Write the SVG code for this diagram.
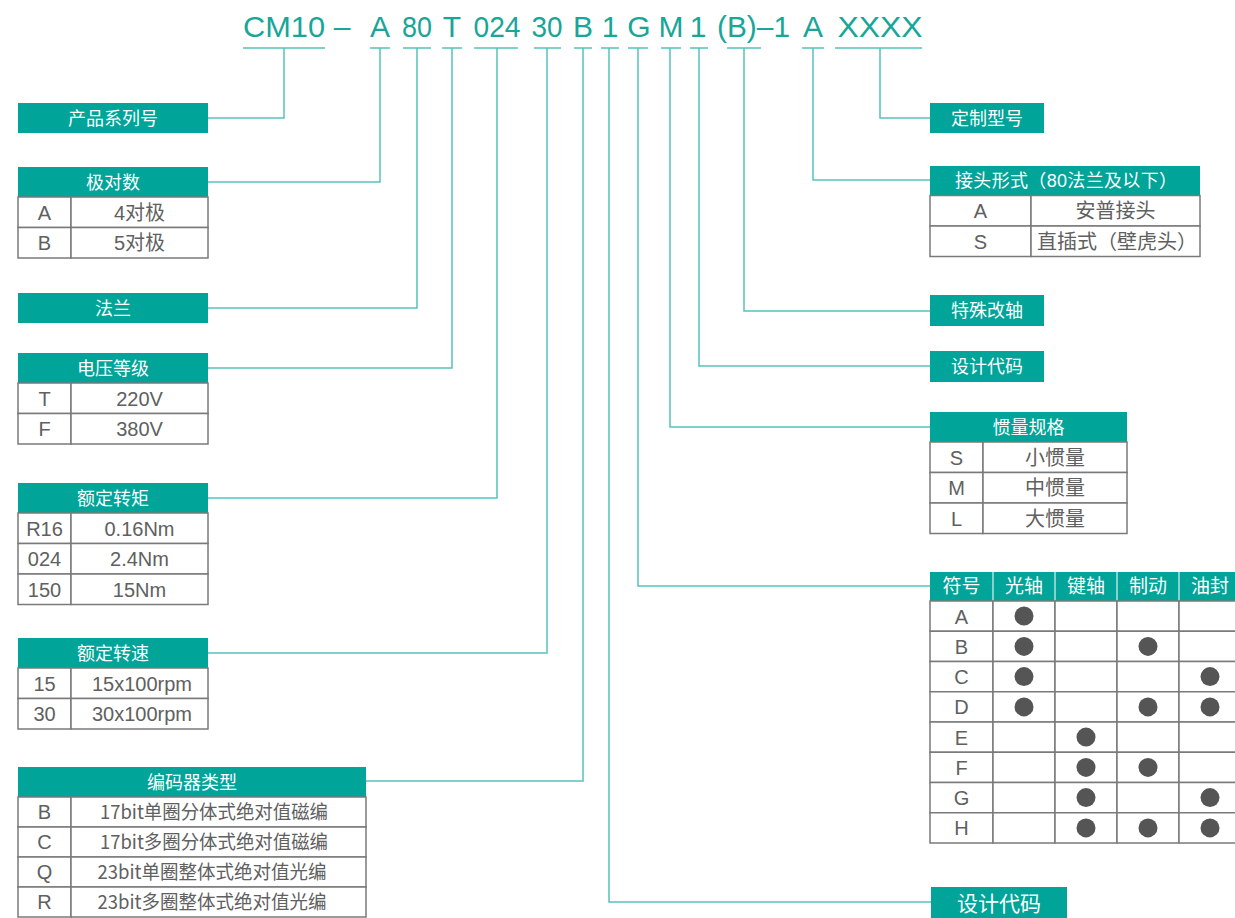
<svg xmlns="http://www.w3.org/2000/svg" width="1235" height="918" viewBox="0 0 1235 918">
<style>
.hd{fill:#00a499}
.ht{fill:#ffffff;font-family:"Liberation Sans","Noto Sans CJK SC",sans-serif;font-size:18px;text-anchor:middle}
.bt{fill:#606060;font-family:"Liberation Sans","Noto Sans CJK SC",sans-serif;font-size:20px;text-anchor:middle}
.et{fill:#606060;font-family:"Noto Sans CJK SC",sans-serif;font-size:19px;text-anchor:middle}
.cell{fill:#ffffff;stroke:#7a7a7a;stroke-width:1.5}
.sep{stroke:#ffffff;stroke-width:1.5;opacity:0.7}
.conn{fill:none;stroke:#55c3ba;stroke-width:1.5}
.code{fill:#17a698;font-family:"Liberation Sans",sans-serif;font-size:30px;text-anchor:middle}
.dot{fill:#555555}
</style>
<rect width="1235" height="918" fill="#ffffff"/>

<g id="code">
<text class="code" x="284" y="37" textLength="82" lengthAdjust="spacingAndGlyphs">CM10</text>
<text class="code" x="342" y="37">–</text>
<text class="code" x="380" y="37">A</text>
<text class="code" x="417" y="37" textLength="30" lengthAdjust="spacingAndGlyphs">80</text>
<text class="code" x="452" y="37">T</text>
<text class="code" x="497" y="37" textLength="47" lengthAdjust="spacingAndGlyphs">024</text>
<text class="code" x="547" y="37" textLength="31" lengthAdjust="spacingAndGlyphs">30</text>
<text class="code" x="583" y="37">B</text>
<text class="code" x="610" y="37">1</text>
<text class="code" x="639" y="37">G</text>
<text class="code" x="671" y="37">M</text>
<text class="code" x="698" y="37">1</text>
<text class="code" x="753.5" y="37" textLength="73" lengthAdjust="spacingAndGlyphs">(B)–1</text>
<text class="code" x="813" y="37">A</text>
<text class="code" x="880" y="37" textLength="85" lengthAdjust="spacingAndGlyphs">XXXX</text>
</g>

<g id="connectors">
<path class="conn" d="M243,48H325M370,48H390M403,48H431M442,48H462M474,48H518M534,48H561M574,48H592M601,48H619M628,48H648M661,48H681M690,48H708M727,48H761M802,48H824M835,48H922"/>
<path class="conn" d="M284,48V118H208"/>
<path class="conn" d="M380,48V182H208"/>
<path class="conn" d="M417,48V308H208"/>
<path class="conn" d="M452,48V368H208"/>
<path class="conn" d="M497,48V498H208"/>
<path class="conn" d="M547,48V653H208"/>
<path class="conn" d="M583,48V781H366"/>
<path class="conn" d="M609,48V902H931"/>
<path class="conn" d="M638,48V586H930"/>
<path class="conn" d="M670,48V427H930"/>
<path class="conn" d="M699,48V366H930"/>
<path class="conn" d="M744,48V311H930"/>
<path class="conn" d="M813,48V180H930"/>
<path class="conn" d="M880,48V118H930"/>
</g>

<g id="series">
<rect class="hd" x="18" y="103" width="190" height="30"/>
<text class="ht" x="113" y="124.5">产品系列号</text>
</g>

<g id="poles">
<rect class="hd" x="18" y="167" width="190" height="30"/>
<text class="ht" x="113" y="188.5">极对数</text>
<rect class="cell" x="18" y="197" width="53" height="30.5"/><rect class="cell" x="71" y="197" width="137" height="30.5"/>
<rect class="cell" x="18" y="227.5" width="53" height="30.5"/><rect class="cell" x="71" y="227.5" width="137" height="30.5"/>
<text class="bt" x="44.5" y="219.5">A</text><text class="bt" x="139.5" y="219.5">4对极</text>
<text class="bt" x="44.5" y="250">B</text><text class="bt" x="139.5" y="250">5对极</text>
</g>

<g id="flange">
<rect class="hd" x="18" y="293" width="190" height="30"/>
<text class="ht" x="113" y="314.5">法兰</text>
</g>

<g id="voltage">
<rect class="hd" x="18" y="353" width="190" height="30"/>
<text class="ht" x="113" y="374.5">电压等级</text>
<rect class="cell" x="18" y="383" width="53" height="30.5"/><rect class="cell" x="71" y="383" width="137" height="30.5"/>
<rect class="cell" x="18" y="413.5" width="53" height="30.5"/><rect class="cell" x="71" y="413.5" width="137" height="30.5"/>
<text class="bt" x="44.5" y="405.5">T</text><text class="bt" x="139.5" y="405.5">220V</text>
<text class="bt" x="44.5" y="436">F</text><text class="bt" x="139.5" y="436">380V</text>
</g>

<g id="torque">
<rect class="hd" x="18" y="483" width="190" height="30"/>
<text class="ht" x="113" y="504.5">额定转矩</text>
<rect class="cell" x="18" y="513" width="53" height="30.5"/><rect class="cell" x="71" y="513" width="137" height="30.5"/>
<rect class="cell" x="18" y="543.5" width="53" height="30.5"/><rect class="cell" x="71" y="543.5" width="137" height="30.5"/>
<rect class="cell" x="18" y="574" width="53" height="30.5"/><rect class="cell" x="71" y="574" width="137" height="30.5"/>
<text class="bt" x="44.5" y="535.5">R16</text><text class="bt" x="139.5" y="535.5">0.16Nm</text>
<text class="bt" x="44.5" y="566">024</text><text class="bt" x="139.5" y="566">2.4Nm</text>
<text class="bt" x="44.5" y="596.5">150</text><text class="bt" x="139.5" y="596.5">15Nm</text>
</g>

<g id="speed">
<rect class="hd" x="18" y="638" width="190" height="30"/>
<text class="ht" x="113" y="659.5">额定转速</text>
<rect class="cell" x="18" y="668" width="53" height="30.5"/><rect class="cell" x="71" y="668" width="137" height="30.5"/>
<rect class="cell" x="18" y="698.5" width="53" height="30.5"/><rect class="cell" x="71" y="698.5" width="137" height="30.5"/>
<text class="bt" x="44.5" y="690.5">15</text><text class="bt" x="142" y="690.5">15x100rpm</text>
<text class="bt" x="44.5" y="721">30</text><text class="bt" x="142" y="721">30x100rpm</text>
</g>

<g id="encoder">
<rect class="hd" x="18" y="767" width="348" height="30"/>
<text class="ht" x="192" y="788.5">编码器类型</text>
<rect class="cell" x="18" y="797" width="53" height="30"/><rect class="cell" x="71" y="797" width="295" height="30"/>
<rect class="cell" x="18" y="827" width="53" height="30"/><rect class="cell" x="71" y="827" width="295" height="30"/>
<rect class="cell" x="18" y="857" width="53" height="30"/><rect class="cell" x="71" y="857" width="295" height="30"/>
<rect class="cell" x="18" y="887" width="53" height="30"/><rect class="cell" x="71" y="887" width="295" height="30"/>
<text class="bt" x="44.5" y="819">B</text><text class="et" x="214" y="818.5" textLength="228" lengthAdjust="spacingAndGlyphs">17bit单圈分体式绝对值磁编</text>
<text class="bt" x="44.5" y="849">C</text><text class="et" x="214" y="848.5" textLength="228" lengthAdjust="spacingAndGlyphs">17bit多圈分体式绝对值磁编</text>
<text class="bt" x="44.5" y="879">Q</text><text class="et" x="212" y="878.5" textLength="229" lengthAdjust="spacingAndGlyphs">23bit单圈整体式绝对值光编</text>
<text class="bt" x="44.5" y="909">R</text><text class="et" x="212" y="908.5" textLength="229" lengthAdjust="spacingAndGlyphs">23bit多圈整体式绝对值光编</text>
</g>

<g id="custom">
<rect class="hd" x="930" y="103" width="114" height="30"/>
<text class="ht" x="987" y="124.5">定制型号</text>
</g>

<g id="connector-type">
<rect class="hd" x="930" y="166" width="270" height="29.5"/>
<text class="ht" x="1066" y="187" textLength="222" lengthAdjust="spacing">接头形式（80法兰及以下）</text>
<rect class="cell" x="930" y="195.5" width="101" height="30.5"/><rect class="cell" x="1031" y="195.5" width="169" height="30.5"/>
<rect class="cell" x="930" y="226" width="101" height="30.5"/><rect class="cell" x="1031" y="226" width="169" height="30.5"/>
<text class="bt" x="980.5" y="218">A</text><text class="bt" x="1115.5" y="218">安普接头</text>
<text class="bt" x="980.5" y="248.5">S</text><text class="bt" x="1117" y="248.5">直插式（壁虎头）</text>
</g>

<g id="special-shaft">
<rect class="hd" x="930" y="295" width="114" height="31"/>
<text class="ht" x="987" y="317">特殊改轴</text>
</g>

<g id="design-code-1">
<rect class="hd" x="930" y="351" width="114" height="31"/>
<text class="ht" x="987" y="373">设计代码</text>
</g>

<g id="inertia">
<rect class="hd" x="930" y="412" width="197" height="30"/>
<text class="ht" x="1028.5" y="433.5">惯量规格</text>
<rect class="cell" x="930" y="442" width="53" height="30.5"/><rect class="cell" x="983" y="442" width="144" height="30.5"/>
<rect class="cell" x="930" y="472.5" width="53" height="30.5"/><rect class="cell" x="983" y="472.5" width="144" height="30.5"/>
<rect class="cell" x="930" y="503" width="53" height="30.5"/><rect class="cell" x="983" y="503" width="144" height="30.5"/>
<text class="bt" x="956.5" y="464.5">S</text><text class="bt" x="1055" y="464.5">小惯量</text>
<text class="bt" x="956.5" y="495">M</text><text class="bt" x="1055" y="495">中惯量</text>
<text class="bt" x="956.5" y="525.5">L</text><text class="bt" x="1055" y="525.5">大惯量</text>
</g>

<g id="shaft-table">
<rect class="hd" x="930" y="572" width="312" height="29"/>
<line class="sep" x1="993" y1="572" x2="993" y2="601"/>
<line class="sep" x1="1055" y1="572" x2="1055" y2="601"/>
<line class="sep" x1="1117" y1="572" x2="1117" y2="601"/>
<line class="sep" x1="1179" y1="572" x2="1179" y2="601"/>
<text class="ht" x="961.5" y="593" style="font-size:19px">符号</text>
<text class="ht" x="1024" y="593" style="font-size:19px">光轴</text>
<text class="ht" x="1086" y="593" style="font-size:19px">键轴</text>
<text class="ht" x="1148" y="593" style="font-size:19px">制动</text>
<text class="ht" x="1210" y="593" style="font-size:19px">油封</text>
<g>
<rect class="cell" x="930" y="601" width="63" height="30.25"/><rect class="cell" x="993" y="601" width="62" height="30.25"/><rect class="cell" x="1055" y="601" width="62" height="30.25"/><rect class="cell" x="1117" y="601" width="62" height="30.25"/><rect class="cell" x="1179" y="601" width="62" height="30.25"/>
<rect class="cell" x="930" y="631.25" width="63" height="30.25"/><rect class="cell" x="993" y="631.25" width="62" height="30.25"/><rect class="cell" x="1055" y="631.25" width="62" height="30.25"/><rect class="cell" x="1117" y="631.25" width="62" height="30.25"/><rect class="cell" x="1179" y="631.25" width="62" height="30.25"/>
<rect class="cell" x="930" y="661.5" width="63" height="30.25"/><rect class="cell" x="993" y="661.5" width="62" height="30.25"/><rect class="cell" x="1055" y="661.5" width="62" height="30.25"/><rect class="cell" x="1117" y="661.5" width="62" height="30.25"/><rect class="cell" x="1179" y="661.5" width="62" height="30.25"/>
<rect class="cell" x="930" y="691.75" width="63" height="30.25"/><rect class="cell" x="993" y="691.75" width="62" height="30.25"/><rect class="cell" x="1055" y="691.75" width="62" height="30.25"/><rect class="cell" x="1117" y="691.75" width="62" height="30.25"/><rect class="cell" x="1179" y="691.75" width="62" height="30.25"/>
<rect class="cell" x="930" y="722" width="63" height="30.25"/><rect class="cell" x="993" y="722" width="62" height="30.25"/><rect class="cell" x="1055" y="722" width="62" height="30.25"/><rect class="cell" x="1117" y="722" width="62" height="30.25"/><rect class="cell" x="1179" y="722" width="62" height="30.25"/>
<rect class="cell" x="930" y="752.25" width="63" height="30.25"/><rect class="cell" x="993" y="752.25" width="62" height="30.25"/><rect class="cell" x="1055" y="752.25" width="62" height="30.25"/><rect class="cell" x="1117" y="752.25" width="62" height="30.25"/><rect class="cell" x="1179" y="752.25" width="62" height="30.25"/>
<rect class="cell" x="930" y="782.5" width="63" height="30.25"/><rect class="cell" x="993" y="782.5" width="62" height="30.25"/><rect class="cell" x="1055" y="782.5" width="62" height="30.25"/><rect class="cell" x="1117" y="782.5" width="62" height="30.25"/><rect class="cell" x="1179" y="782.5" width="62" height="30.25"/>
<rect class="cell" x="930" y="812.75" width="63" height="30.25"/><rect class="cell" x="993" y="812.75" width="62" height="30.25"/><rect class="cell" x="1055" y="812.75" width="62" height="30.25"/><rect class="cell" x="1117" y="812.75" width="62" height="30.25"/><rect class="cell" x="1179" y="812.75" width="62" height="30.25"/>
</g>
<text class="bt" x="961.5" y="623.5">A</text>
<text class="bt" x="961.5" y="653.5">B</text>
<text class="bt" x="961.5" y="684">C</text>
<text class="bt" x="961.5" y="714">D</text>
<text class="bt" x="961.5" y="744.5">E</text>
<text class="bt" x="961.5" y="774.5">F</text>
<text class="bt" x="961.5" y="805">G</text>
<text class="bt" x="961.5" y="835">H</text>
<circle class="dot" cx="1024" cy="616" r="9.5"/>
<circle class="dot" cx="1024" cy="646.4" r="9.5"/><circle class="dot" cx="1148" cy="646.4" r="9.5"/>
<circle class="dot" cx="1024" cy="676.6" r="9.5"/><circle class="dot" cx="1210" cy="676.6" r="9.5"/>
<circle class="dot" cx="1024" cy="706.9" r="9.5"/><circle class="dot" cx="1148" cy="706.9" r="9.5"/><circle class="dot" cx="1210" cy="706.9" r="9.5"/>
<circle class="dot" cx="1086" cy="737.1" r="9.5"/>
<circle class="dot" cx="1086" cy="767.4" r="9.5"/><circle class="dot" cx="1148" cy="767.4" r="9.5"/>
<circle class="dot" cx="1086" cy="797.6" r="9.5"/><circle class="dot" cx="1210" cy="797.6" r="9.5"/>
<circle class="dot" cx="1086" cy="827.9" r="9.5"/><circle class="dot" cx="1148" cy="827.9" r="9.5"/><circle class="dot" cx="1210" cy="827.9" r="9.5"/>
</g>

<g id="design-code-2">
<rect class="hd" x="931" y="887" width="136" height="35"/>
<text class="ht" x="999" y="910.5" style="font-size:21px">设计代码</text>
</g>
</svg>
